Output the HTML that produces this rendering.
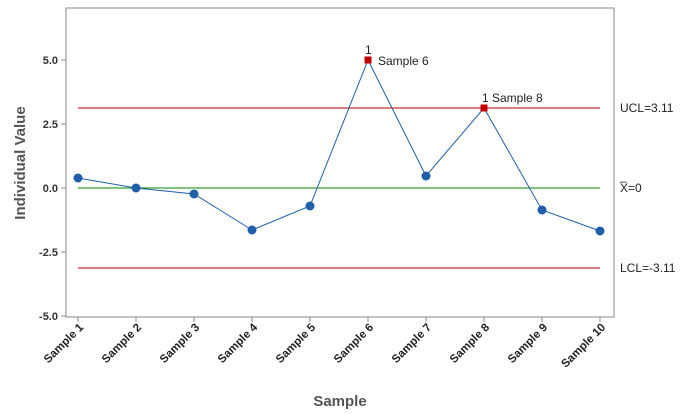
<html><body style="margin:0;background:#fff">
<svg width="686" height="414" xmlns="http://www.w3.org/2000/svg" font-family="Liberation Sans, sans-serif">
<rect x="66" y="8" width="548" height="309" fill="#fff" stroke="#888" stroke-width="1"/>
<g stroke="#888"><line x1="66" y1="60" x2="61" y2="60"/><line x1="66" y1="124" x2="61" y2="124"/><line x1="66" y1="188" x2="61" y2="188"/><line x1="66" y1="252" x2="61" y2="252"/><line x1="66" y1="316" x2="61" y2="316"/></g>
<g font-size="11" fill="#333" text-anchor="end" font-weight="bold">
<text x="58" y="64">5.0</text><text x="58" y="128">2.5</text><text x="58" y="192">0.0</text><text x="58" y="256">-2.5</text><text x="58" y="320">-5.0</text></g>
<text transform="translate(25,163) rotate(-90)" text-anchor="middle" font-size="15" font-weight="bold" fill="#555">Individual Value</text>
<text x="340" y="406" text-anchor="middle" font-size="15" font-weight="bold" fill="#555">Sample</text>
<line x1="78" y1="108" x2="600" y2="108" stroke="#b00000"/>
<line x1="78" y1="268" x2="600" y2="268" stroke="#b00000"/>
<line x1="78" y1="188" x2="600" y2="188" stroke="#008800"/>
<g font-size="12" fill="#222">
<text x="620" y="112">UCL=3.11</text><text x="620" y="272">LCL=-3.11</text>
<text x="620" y="180">_</text><text x="620" y="192">X=0</text>
<text x="365" y="54">1</text><text x="378" y="65">Sample 6</text>
<text x="482" y="102">1 Sample 8</text></g>
<polyline fill="none" stroke="#1f5fa8" stroke-width="1" points="78,178 136,188 194,194 252,230 310,206 368,60 426,176 484,108 542,210 600,231"/>
<g fill="#1f5fa8"><circle cx="78" cy="178" r="4.5"/><circle cx="136" cy="188" r="4.5"/><circle cx="194" cy="194" r="4.5"/><circle cx="252" cy="230" r="4.5"/><circle cx="310" cy="206" r="4.5"/><circle cx="426" cy="176" r="4.5"/><circle cx="542" cy="210" r="4.5"/><circle cx="600" cy="231" r="4.5"/></g>
<rect x="364.5" y="56.5" width="7" height="7" fill="#c00000"/><rect x="480.5" y="104.5" width="7" height="7" fill="#c00000"/>
<g stroke="#888">
<line x1="78" y1="317" x2="78" y2="322"/><line x1="136" y1="317" x2="136" y2="322"/><line x1="194" y1="317" x2="194" y2="322"/><line x1="252" y1="317" x2="252" y2="322"/><line x1="310" y1="317" x2="310" y2="322"/><line x1="368" y1="317" x2="368" y2="322"/><line x1="426" y1="317" x2="426" y2="322"/><line x1="484" y1="317" x2="484" y2="322"/><line x1="542" y1="317" x2="542" y2="322"/><line x1="600" y1="317" x2="600" y2="322"/></g>
<g font-size="11.5" fill="#222" text-anchor="end" font-weight="bold">
<text transform="translate(84,328) rotate(-45)">Sample 1</text>
<text transform="translate(142,328) rotate(-45)">Sample 2</text>
<text transform="translate(200,328) rotate(-45)">Sample 3</text>
<text transform="translate(258,328) rotate(-45)">Sample 4</text>
<text transform="translate(316,328) rotate(-45)">Sample 5</text>
<text transform="translate(374,328) rotate(-45)">Sample 6</text>
<text transform="translate(432,328) rotate(-45)">Sample 7</text>
<text transform="translate(490,328) rotate(-45)">Sample 8</text>
<text transform="translate(548,328) rotate(-45)">Sample 9</text>
<text transform="translate(606,328) rotate(-45)">Sample 10</text></g>
</svg></body></html>
